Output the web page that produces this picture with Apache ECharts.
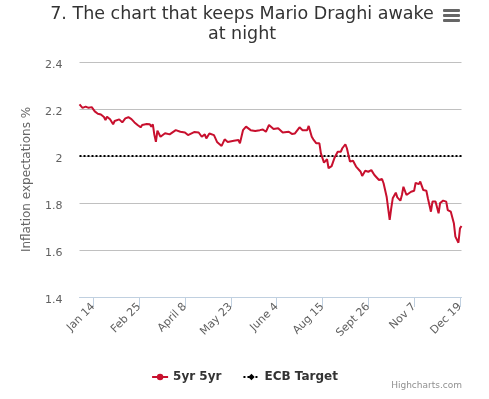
<!DOCTYPE html>
<html>
<head>
<meta charset="utf-8">
<script src="https://cdn.jsdelivr.net/npm/echarts@6/dist/echarts.min.js"></script>
<style>
html,body{margin:0;padding:0;background:#fff;}
#chart{width:489px;height:399px;}
</style>
</head>
<body>
<div id="chart"></div>
<script>
// Business-day index (0 = first trading day of 2014)
var dayIdx = [0,1,2,4,6,8,9,10,12,14,16,17,18,20,21,22,23,24,26,28,29,30,32,34,36,38,40,41,44,46,47,48,49,50,51,53,56,59,63,66,69,71,75,78,80,82,83,85,88,90,93,95,97,101,104,105,107,109,112,113,115,116,118,120,122,124,125,127,130,133,137,139,141,144,146,149,150,152,153,155,157,158,160,162,163,165,167,169,171,172,174,175,177,179,181,184,185,187,189,191,193,196,198,199,201,202,203,204,205,207,208,210,211,212,214,215,217,219,220,222,223,225,227,228,230,231,233,235,236,238,240,241,243,245,246,248,249,250];
// 5yr 5yr forward inflation expectations (%)
var rate5y5y = [2.22,2.214,2.205,2.21,2.205,2.208,2.203,2.19,2.18,2.177,2.166,2.153,2.167,2.156,2.157,2.135,2.149,2.146,2.156,2.143,2.146,2.16,2.165,2.157,2.143,2.132,2.122,2.132,2.136,2.135,2.125,2.135,2.09,2.06,2.108,2.082,2.097,2.092,2.11,2.103,2.1,2.089,2.102,2.1,2.082,2.092,2.075,2.096,2.089,2.06,2.043,2.071,2.06,2.065,2.068,2.054,2.11,2.125,2.11,2.11,2.106,2.113,2.11,2.113,2.103,2.132,2.139,2.115,2.118,2.1,2.103,2.094,2.096,2.122,2.11,2.11,2.128,2.082,2.071,2.054,2.054,2.011,1.972,1.986,1.948,1.957,1.994,2.018,2.018,2.033,2.05,2.033,1.976,1.98,1.955,1.933,1.915,1.937,1.933,1.94,1.919,1.898,1.902,1.884,1.827,1.777,1.728,1.777,1.82,1.844,1.824,1.81,1.834,1.869,1.834,1.83,1.848,1.852,1.886,1.88,1.891,1.855,1.852,1.82,1.763,1.806,1.806,1.756,1.8,1.81,1.806,1.77,1.763,1.714,1.657,1.631,1.692,1.702];
// ECB target
var targetIdx = [0,250];
var targetVal = [2,2];
// x-axis ticks
var tickIdx = [9,39,69,99,129,159,189,219,249];
var tickLabels = ['Jan 14','Feb 25','April 8','May 23','June 4','Aug 15','Sept 26','Nov 7','Dec 19'];

var FONT = '"DejaVu Sans", Verdana, sans-serif';
function pairs(xs, ys){ return xs.map(function(x,i){ return [x, ys[i]]; }); }

var chart = echarts.init(document.getElementById('chart'), null, {renderer:'canvas'});
chart.setOption({
  animation:false,
  backgroundColor:'#fff',
  title:{
    text:'7. The chart that keeps Mario Draghi awake\nat night',
    left:237, top:-1, textAlign:'center',
    textStyle:{fontFamily:FONT, fontSize:17.5, fontWeight:'normal', color:'#333', lineHeight:20}
  },
  grid:{left:79.5, right:27.5, top:62, bottom:102, containLabel:false},
  legend:{
    left:'center', top:366,
    itemWidth:16, itemHeight:8, itemGap:21,
    textStyle:{fontFamily:FONT, fontSize:12, fontWeight:'bold', color:'#333'},
    data:['5yr 5yr','ECB Target'],
    selectedMode:false
  },
  xAxis:{
    type:'value', min:0, max:250,
    axisLine:{show:true, lineStyle:{color:'#C0D0E0', width:1}},
    axisTick:{show:true, customValues:tickIdx, length:10, lineStyle:{color:'#C0D0E0'}},
    axisLabel:{
      customValues:tickIdx, rotate:45, margin:8,
      fontFamily:FONT, fontSize:11, color:'#606060',
      formatter:function(v){ var i = tickIdx.indexOf(Math.round(v)); return i>=0 ? tickLabels[i] : ''; }
    },
    splitLine:{show:false}
  },
  yAxis:{
    type:'value', min:1.4, max:2.4, interval:0.2,
    name:'Inflation expectations %', nameLocation:'middle', nameRotate:90, nameGap:47,
    nameTextStyle:{fontFamily:FONT, fontSize:12, color:'#666'},
    axisLine:{show:false}, axisTick:{show:false},
    axisLabel:{fontFamily:FONT, fontSize:11, color:'#606060', margin:17,
      verticalAlign:'top', lineHeight:6,
      formatter:function(v){ return String(+v.toFixed(1)); }},
    splitLine:{lineStyle:{color:'#C0C0C0', width:1}}
  },
  series:[
    {
      name:'5yr 5yr', type:'line', data:pairs(dayIdx, rate5y5y),
      showSymbol:false, symbol:'circle', symbolSize:8,
      itemStyle:{color:'#c8102e'},
      lineStyle:{color:'#c8102e', width:2},
      emphasis:{disabled:true}, z:3
    },
    {
      name:'ECB Target', type:'line', data:pairs(targetIdx, targetVal),
      showSymbol:false, symbol:'diamond', symbolSize:8,
      itemStyle:{color:'#000'},
      lineStyle:{color:'#000', width:2, type:[2,2]},
      emphasis:{disabled:true}, z:2
    }
  ],
  graphic:[
    {type:'rect', left:443, top:9, shape:{width:17, height:3, r:1}, style:{fill:'#666'}},
    {type:'rect', left:443, top:14, shape:{width:17, height:3, r:1}, style:{fill:'#666'}},
    {type:'rect', left:443, top:19, shape:{width:17, height:3, r:1}, style:{fill:'#666'}},
    {type:'text', right:27, top:381, style:{text:'Highcharts.com', fontFamily:FONT, fontSize:9, fill:'#909090'}}
  ]
});
</script>
</body>
</html>
